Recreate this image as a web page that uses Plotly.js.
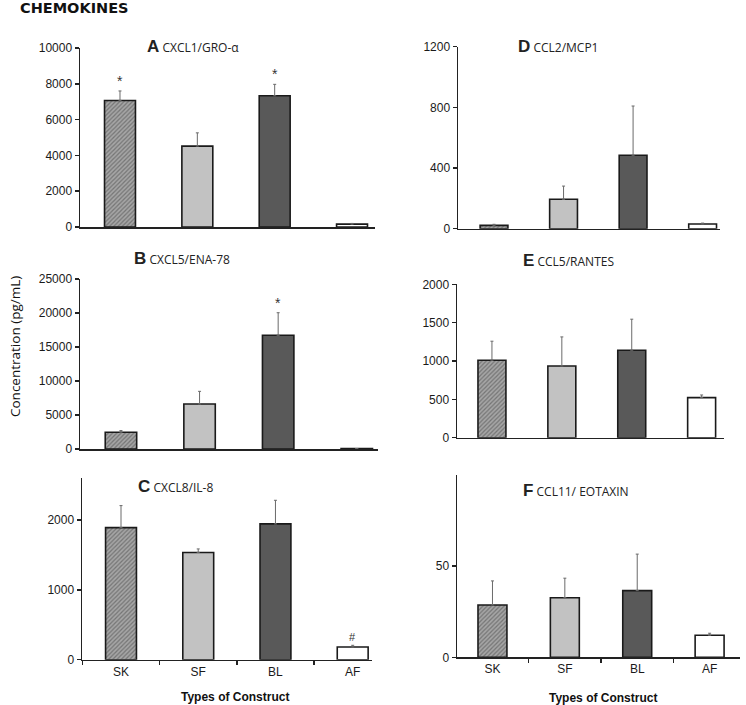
<!DOCTYPE html>
<html>
<head>
<meta charset="utf-8">
<script src="https://cdn.plot.ly/plotly-3.0.1.min.js"></script>
<style>html,body{margin:0;padding:0;background:#fff;}#chart{width:746px;height:705px;}</style>
</head>
<body>
<div id="chart"></div>
<script>
// ---- data ----
const categories = ['SK', 'SF', 'BL', 'AF'];

const cxcl1Mean = [7070, 4520, 7330, 160];
const cxcl1Err  = [530, 740, 640, 40];
const cxcl1Sig  = ['*', '', '*', ''];

const cxcl5Mean = [2460, 6620, 16720, 60];
const cxcl5Err  = [250, 1860, 3320, 0];
const cxcl5Sig  = ['', '', '*', ''];

const cxcl8Mean = [1890, 1535, 1943, 181];
const cxcl8Err  = [315, 50, 338, 25];
const cxcl8Sig  = ['', '', '', '#'];

const ccl2Mean = [22, 194, 484, 31];
const ccl2Err  = [7, 87, 325, 6];

const ccl5Mean = [1010, 935, 1140, 522];
const ccl5Err  = [248, 379, 405, 35];

const ccl11Mean = [28.7, 32.7, 36.6, 12.1];
const ccl11Err  = [13.2, 10.7, 20.0, 1.1];

const panelLetters = ['A', 'B', 'C', 'D', 'E', 'F'];
const panelNames = ['CXCL1/GRO-α', 'CXCL5/ENA-78', 'CXCL8/IL-8', 'CCL2/MCP1', 'CCL5/RANTES', 'CCL11/ EOTAXIN'];

// ---- styles ----
const W = 746, H = 705;
const px = v => v / W;
const py = v => 1 - v / H;
const fillColors = ['#a6a6a6', '#c2c2c2', '#595959', '#ffffff'];
const patternShapes = ['/', '', '', ''];

const panels = [
  {mean: cxcl1Mean, err: cxcl1Err, sig: cxcl1Sig, xpx: [80, 375], ypx: [48, 227], xr: [-0.517, 3.297], yr: [0, 10000], dtick: 2000, xlab: false, title: [145, 47]},
  {mean: cxcl5Mean, err: cxcl5Err, sig: cxcl5Sig, xpx: [80, 378], ypx: [279, 449], xr: [-0.521, 3.27], yr: [0, 25000], dtick: 5000, xlab: false, title: [132, 258]},
  {mean: cxcl8Mean, err: cxcl8Err, sig: cxcl8Sig, xpx: [82, 372], ypx: [478, 659.7], xr: [-0.505, 3.25], yr: [0, 2600], tickvals: [0, 1000, 2000], xlab: true, title: [136, 486]},
  {mean: ccl2Mean, err: ccl2Err, sig: null, xpx: [458, 720], ypx: [46.7, 228.7], xr: [-0.518, 3.25], yr: [0, 1200], dtick: 400, xlab: false, title: [516, 47]},
  {mean: ccl5Mean, err: ccl5Err, sig: null, xpx: [457, 724], ypx: [284.3, 437.7], xr: [-0.5, 3.32], yr: [0, 2000], dtick: 500, xlab: false, title: [521, 260]},
  {mean: ccl11Mean, err: ccl11Err, sig: null, xpx: [457, 740], ypx: [475, 657.3], xr: [-0.49, 3.42], yr: [0, 100], tickvals: [0, 50], xlab: true, title: [521, 490]}
];

const tickFont = {family: 'Liberation Sans, Arial, sans-serif', size: 12, color: '#1a1a1a'};
const data = [];
const layout = {
  width: W, height: H,
  margin: {l: 0, r: 0, t: 0, b: 0},
  paper_bgcolor: '#fff', plot_bgcolor: 'rgba(0,0,0,0)',
  showlegend: false,
  bargap: 0,
  annotations: []
};

panels.forEach((p, i) => {
  const n = i + 1;
  const xa = n === 1 ? 'x' : 'x' + n;
  const ya = n === 1 ? 'y' : 'y' + n;
  data.push({
    type: 'bar',
    x: categories,
    y: p.mean,
    width: 0.4,
    xaxis: xa, yaxis: ya,
    marker: {
      color: fillColors,
      line: {color: '#1a1a1a', width: 1.6},
      pattern: {shape: patternShapes, fgcolor: '#3c3c3c', size: 3, solidity: 0.4, fillmode: 'overlay'}
    },
    error_y: {type: 'data', symmetric: false, array: p.err, arrayminus: categories.map(() => 0),
              color: '#6a6a6a', thickness: 1, width: 1.5},
    hoverinfo: 'skip'
  });
  const xKey = n === 1 ? 'xaxis' : 'xaxis' + n;
  const yKey = n === 1 ? 'yaxis' : 'yaxis' + n;
  layout[xKey] = {
    domain: [px(p.xpx[0]), px(p.xpx[1])],
    anchor: ya,
    type: 'category',
    categoryorder: 'array', categoryarray: categories,
    range: p.xr,
    showline: true, linecolor: '#222', linewidth: 1.5,
    showgrid: false, zeroline: false,
    ticks: p.xlab ? 'outside' : '', tickson: 'boundaries', ticklen: 4, tickcolor: '#222', tickwidth: 1.5,
    showticklabels: p.xlab,
    tickfont: tickFont,
    fixedrange: true
  };
  const yax = {
    domain: [py(p.ypx[1]), py(p.ypx[0])],
    anchor: xa,
    range: p.yr,
    tickformat: 'd',
    showline: true, linecolor: '#222', linewidth: 1.5,
    showgrid: false, zeroline: false,
    ticks: 'outside', ticklen: 4, tickcolor: '#222', tickwidth: 1.5,
    tickfont: tickFont,
    fixedrange: true
  };
  if (p.tickvals) { yax.tickmode = 'array'; yax.tickvals = p.tickvals; }
  else { yax.tick0 = 0; yax.dtick = p.dtick; }
  layout[yKey] = yax;

  // panel title
  layout.annotations.push({
    xref: 'paper', yref: 'paper', x: px(p.title[0]), y: py(p.title[1]),
    xanchor: 'left', yanchor: 'middle', showarrow: false,
    text: '<span style="font-family:Liberation Sans, Arial;font-size:17px;font-weight:bold">' + panelLetters[i] + '</span> ' + panelNames[i],
    font: {family: 'Open Sans, sans-serif', size: 12, color: '#222'}
  });

  // significance marks
  if (p.sig) {
    p.sig.forEach((s, k) => {
      if (!s) return;
      layout.annotations.push({
        xref: xa, yref: ya, x: categories[k], y: p.mean[k] + p.err[k],
        xanchor: 'center', yanchor: 'bottom', yshift: 0, showarrow: false,
        text: s, font: {family: 'Liberation Sans, Arial', size: s === '#' ? 11 : 14, color: '#333'}
      });
    });
  }
});

// global labels
layout.annotations.push(
  {xref: 'paper', yref: 'paper', x: px(18), y: py(8), xanchor: 'left', yanchor: 'middle', showarrow: false,
   text: '<b>CHEMOKINES</b>', font: {family: 'DejaVu Sans, sans-serif', size: 14.5, color: '#111'}},
  {xref: 'paper', yref: 'paper', x: px(15), y: py(347), xanchor: 'center', yanchor: 'middle', showarrow: false,
   textangle: -90, text: 'Concentration (pg/mL)', font: {family: 'Open Sans, sans-serif', size: 13.5, color: '#111'}},
  {xref: 'paper', yref: 'paper', x: px(235), y: py(697), xanchor: 'center', yanchor: 'middle', showarrow: false,
   text: '<b>Types of Construct</b>', font: {family: 'Liberation Sans, Arial', size: 12, color: '#111'}},
  {xref: 'paper', yref: 'paper', x: px(603), y: py(698), xanchor: 'center', yanchor: 'middle', showarrow: false,
   text: '<b>Types of Construct</b>', font: {family: 'Liberation Sans, Arial', size: 12, color: '#111'}}
);

Plotly.newPlot('chart', data, layout, {staticPlot: true, displayModeBar: false});
</script>
</body>
</html>
